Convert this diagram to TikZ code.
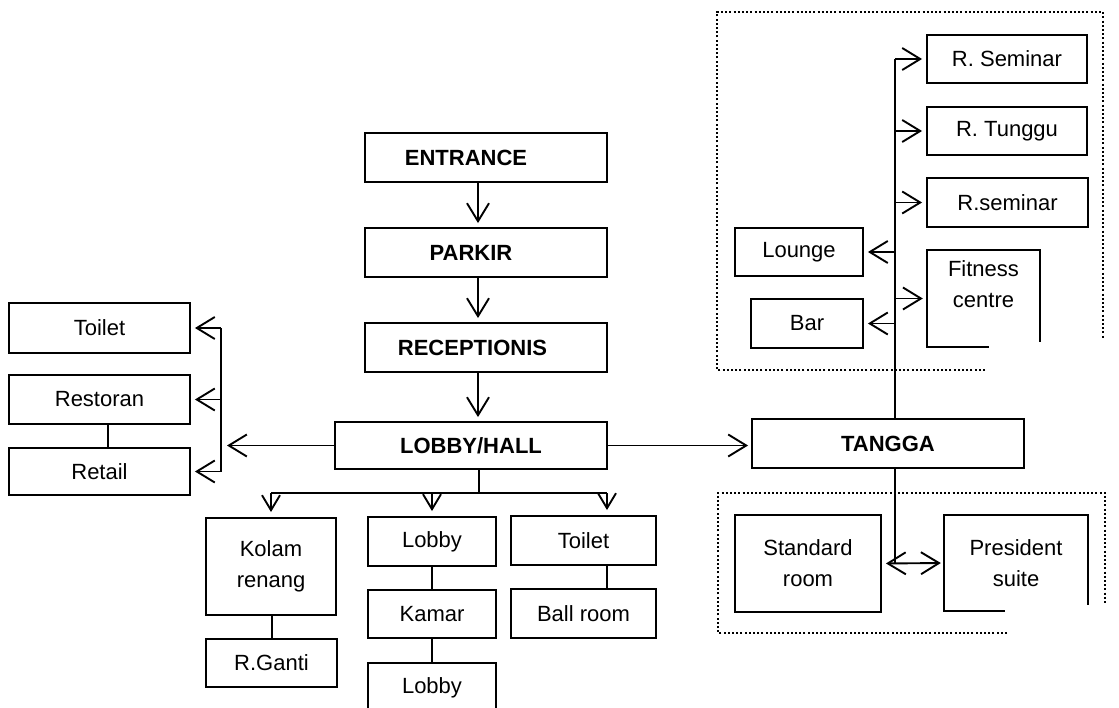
\documentclass[tikz,border=0pt]{standalone}
\usepackage{fontspec}
\setmainfont{Liberation Sans}
\usetikzlibrary{arrows.meta}
\begin{document}
\begin{tikzpicture}[x=1pt,y=-1pt,
  box/.style={draw, line width=1.9pt, inner sep=0pt, align=center, font=\fontsize{22}{31}\selectfont},
  bbox/.style={box, font=\fontsize{22}{31}\selectfont\bfseries},
  plain/.style={inner sep=0pt, align=center, font=\fontsize{22}{31}\selectfont},
  sz/.style 2 args={minimum width=#1pt, minimum height=#2pt},
  ln/.style={line width=1.9pt},
  arr/.style={line width=1.9pt, -{Straight Barb[length=18pt,width=22pt,line width=1.9pt]}, shorten >=4pt},
  sarr/.style={line width=1.9pt, -{Straight Barb[length=15pt,width=18pt,line width=1.9pt]}, shorten >=5pt},
  darr/.style={line width=1.9pt, {Straight Barb[length=18pt,width=22pt,line width=1.9pt]}-{Straight Barb[length=18pt,width=22pt,line width=1.9pt]}, shorten <=4pt, shorten >=3pt},
  frame/.style={line width=2.2pt, dash pattern=on 2pt off 2.2pt}
]
\useasboundingbox (0,0) rectangle (1119,707);

% central column
\node[bbox, sz={242}{49}] (entrance) at (486,157.5) {\hspace*{-40pt}ENTRANCE};
\node[bbox, sz={242}{49}] (parkir) at (486,252.5) {\hspace*{-30pt}PARKIR};
\node[bbox, sz={242}{49}] (recep) at (486,347.5) {\hspace*{-27pt}RECEPTIONIS};
\node[bbox, sz={272}{47}] (lobby) at (471,445.5) {LOBBY/HALL};

\coordinate (ax) at (478,0);
\draw[arr] (entrance.south -| ax) -- (parkir.north -| ax);
\draw[arr] (parkir.south -| ax) -- (recep.north -| ax);
\draw[arr] (recep.south -| ax) -- (lobby.north -| ax);

% left group
\node[box, sz={181}{50}] (toiletL) at (99.5,328) {Toilet};
\node[box, sz={181}{49}] (restoran) at (99.5,399.5) {Restoran};
\node[box, sz={181}{47}] (retail) at (99.5,471.5) {Retail};
\coordinate (rr) at (108,0);
\draw[ln] (restoran.south -| rr) -- (retail.north -| rr);

\coordinate (brk) at (221,0);
\coordinate (lt) at (227,445.5);
\draw[arr, shorten >=0pt] (lobby.west) -- (lt);
\draw[ln] (toiletL.east -| brk) -- (retail.east -| brk);
\draw[arr] (toiletL.east -| brk) -- (toiletL.east);
\draw[arr] (restoran.east -| brk) -- (restoran.east);
\draw[arr] (retail.east -| brk) -- (retail.east);

% lower group
\node[box, sz={130}{97}] (kolam) at (271,566.5) {Kolam\\renang};
\node[box, sz={131}{48}] (rganti) at (271.5,663) {R.Ganti};
\node[box, sz={128}{49}] (lobbyA) at (432,541.5) {Lobby};
\node[box, sz={128}{48}] (kamar) at (432,614) {Kamar};
\node[box, sz={128}{50}] (lobbyB) at (432,688) {Lobby};
\node[box, sz={145}{49}] (toiletB) at (583.5,540.5) {Toilet};
\node[box, sz={145}{49}] (ballroom) at (583.5,613.5) {Ball room};

\coordinate (ld) at (479,493);
\coordinate (t2) at (607,493);
\draw[ln] (lobby.south -| ld) -- (ld);
\draw[ln] (kolam.north |- ld) -- (t2);
\draw[sarr] (kolam.north |- ld) -- (kolam.north);
\draw[sarr] (lobbyA.north |- ld) -- (lobbyA.north);
\draw[sarr] (t2) -- (t2 |- toiletB.north);

\coordinate (kr) at (272,0);
\draw[ln] (kolam.south -| kr) -- (rganti.north -| kr);
\draw[ln] (lobbyA.south) -- (kamar.north);
\draw[ln] (kamar.south) -- (lobbyB.north);
\draw[ln] (t2 |- toiletB.south) -- (t2 |- ballroom.north);

% right side
\node[bbox, sz={272}{49}] (tangga) at (888,443.5) {TANGGA};
\draw[arr, shorten >=3pt] (lobby.east) -- (lobby.east -| tangga.west);

% upper right group
\draw[frame] (985,370) -- (717,370) -- (717,12) -- (1103,12) -- (1103,338);
\node[box, sz={160}{48}] (rsem) at (1007,59) {R. Seminar};
\node[box, sz={160}{48}] (rtun) at (1007,131) {R. Tunggu};
\node[box, sz={161}{49}] (rsem2) at (1007.5,202.5) {R.seminar};
\node[plain, sz={113}{97}] (fit) at (983.5,298.5) {Fitness\\centre\\[-2pt]\mbox{}};
\draw[ln] ([xshift=62pt]fit.south west) -- (fit.south west) -- (fit.north west) -- (fit.north east) -- ([yshift=5pt]fit.south east);
\node[box, sz={128}{48}] (lounge) at (799,252) {Lounge};
\node[box, sz={112}{49}] (bar) at (807,323.5) {Bar};

\coordinate (vt) at (895,59);
\draw[ln] (vt) -- (vt |- tangga.north);
\draw[arr] (vt) -- (rsem.west);
\draw[arr] (vt |- rtun.west) -- (rtun.west);
\draw[arr] (vt |- rsem2.west) -- (rsem2.west);
\draw[arr] (vt |- fit.west) -- (fit.west);
\draw[arr] (vt |- lounge.east) -- (lounge.east);
\draw[arr] (vt |- bar.east) -- (bar.east);

% lower right group
\draw[frame] (1007,633) -- (718,633) -- (718,493) -- (1105,493) -- (1105,605);
\node[box, sz={146}{97}] (std) at (808,563.5) {Standard\\room};
\node[plain, sz={144}{96}] (pres) at (1016,563) {President\\suite};
\draw[ln] ([xshift=61pt]pres.south west) -- (pres.south west) -- (pres.north west) -- (pres.north east) -- ([yshift=6pt]pres.south east);

\draw[ln] (tangga.south -| vt) -- (vt |- std.east);
\draw[darr] (std.east) -- (pres.west);
\end{tikzpicture}
\end{document}
